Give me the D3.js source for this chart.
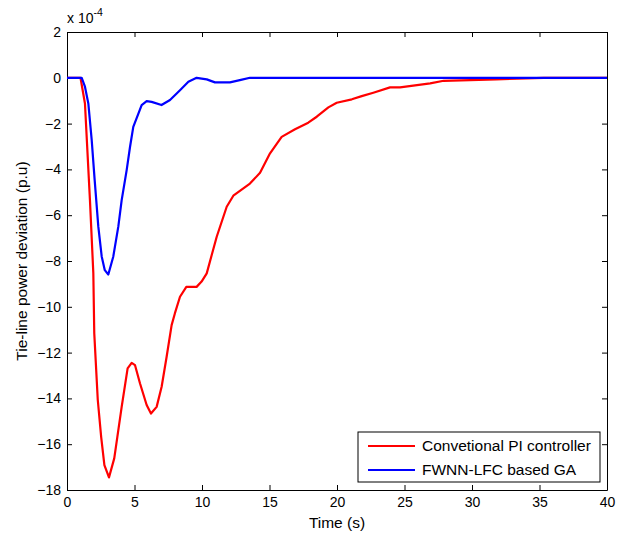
<!doctype html>
<html lang="en">
<head>
<meta charset="utf-8">
<style>
  body { margin: 0; background: #fff; }
  text { font-family: "Liberation Sans", Arial, sans-serif; fill: #000; }
</style>
<script src="https://cdnjs.cloudflare.com/ajax/libs/d3/7.8.5/d3.min.js"></script>
<title>Tie-line power deviation</title>
</head>
<body>
<script>
// data (values in units of 1e-4 p.u)
var piTime = [0, 1.0, 1.33, 1.7, 1.95, 2.02, 2.28, 2.53, 2.77, 3.11, 3.5, 3.73, 4.05, 4.49, 4.79, 5.04, 5.41, 5.9, 6.22, 6.64, 7.01, 7.38, 7.75, 7.99, 8.37, 8.84, 9.6, 9.97, 10.35, 10.72, 11.09, 11.83, 12.32, 13.55, 14.3, 15.04, 15.9, 16.89, 17.87, 18.5, 19.36, 19.98, 21.1, 21.83, 22.69, 23.93, 24.67, 26.9, 27.9, 31.8, 35.3, 40];
var piDev = [0, 0, -1.12, -5.34, -8.53, -11.16, -14.07, -15.68, -16.91, -17.45, -16.62, -15.68, -14.37, -12.69, -12.45, -12.55, -13.35, -14.29, -14.66, -14.37, -13.49, -12.18, -10.8, -10.29, -9.56, -9.13, -9.13, -8.9, -8.54, -7.74, -6.94, -5.63, -5.15, -4.62, -4.15, -3.3, -2.58, -2.25, -1.96, -1.7, -1.29, -1.09, -0.94, -0.8, -0.65, -0.42, -0.42, -0.24, -0.13, -0.07, 0, 0];

var gaTime = [0, 1.09, 1.33, 1.58, 1.83, 2.05, 2.32, 2.57, 2.8, 3.06, 3.43, 3.8, 4.05, 4.42, 4.67, 4.91, 5.53, 5.9, 6.27, 7.0, 7.63, 8.37, 8.99, 9.6, 10.35, 10.96, 12.07, 12.8, 13.55, 40];
var gaDev = [0, 0, -0.39, -1.12, -2.72, -4.47, -6.5, -7.8, -8.4, -8.59, -7.8, -6.5, -5.34, -4.03, -3.01, -2.14, -1.19, -1.02, -1.05, -1.19, -0.97, -0.54, -0.17, 0, -0.07, -0.2, -0.2, -0.1, 0, 0];

var xTicks = [0, 5, 10, 15, 20, 25, 30, 35, 40];
var yTicks = [2, 0, -2, -4, -6, -8, -10, -12, -14, -16, -18];
var seriesNames = ["Convetional PI controller", "FWNN-LFC based GA"];
var seriesColors = ["#ff0000", "#0000ff"];

var width = 624, height = 533;
var margin = {left: 67, right: 17, top: 32, bottom: 43};
var plotW = width - margin.left - margin.right,
    plotH = height - margin.top - margin.bottom;
var fs = "15.5px", tickFs = "14px";

var svg = d3.select("body").append("svg")
    .attr("width", width)
    .attr("height", height);

var x = d3.scaleLinear().domain([0, 40]).range([0, plotW]);
var y = d3.scaleLinear().domain([-18, 2]).range([plotH, 0]);

var g = svg.append("g")
    .attr("transform", "translate(" + margin.left + "," + margin.top + ")");

// axes - matlab style, ticks pointing in, box all round
var xAxis = d3.axisBottom(x).tickValues(xTicks).tickSizeInner(-5).tickSizeOuter(0).tickPadding(7);
var yAxis = d3.axisLeft(y).tickValues(yTicks).tickSizeInner(-5).tickSizeOuter(0).tickPadding(6);

g.append("g").attr("transform", "translate(0," + plotH + ")").call(xAxis);
g.append("g").call(yAxis);
g.append("g").call(d3.axisTop(x).tickValues(xTicks).tickSizeInner(-5).tickSizeOuter(0).tickFormat(""));
g.append("g").attr("transform", "translate(" + plotW + ",0)")
    .call(d3.axisRight(y).tickValues(yTicks).tickSizeInner(-5).tickSizeOuter(0).tickFormat(""));

g.selectAll(".domain").attr("stroke", "#000").attr("stroke-width", 1);
g.selectAll(".tick line").attr("stroke", "#000");
g.selectAll(".tick text").style("font-size", tickFs).style("font-family", "'Liberation Sans', Arial, sans-serif");

// clip so lines do not run over the frame
g.append("clipPath").attr("id", "clip")
  .append("rect").attr("width", plotW).attr("height", plotH);

var line = d3.line()
    .x(function(d) { return x(d[0]); })
    .y(function(d) { return y(d[1]); });

var series = [d3.zip(piTime, piDev), d3.zip(gaTime, gaDev)];

series.forEach(function(s, i) {
  g.append("path")
    .datum(s)
    .attr("clip-path", "url(#clip)")
    .attr("fill", "none")
    .attr("stroke", seriesColors[i])
    .attr("stroke-width", 2.2)
    .attr("stroke-linejoin", "round")
    .attr("d", line);
});

// exponent label
var expo = svg.append("text")
    .attr("x", margin.left)
    .attr("y", 23)
    .style("font-size", tickFs);
expo.append("tspan").text("x 10");
expo.append("tspan").attr("dy", -7).style("font-size", "10.5px").text("-4");

// axis titles
svg.append("text")
    .attr("x", margin.left + plotW / 2)
    .attr("y", 528)
    .attr("text-anchor", "middle")
    .style("font-size", fs)
    .text("Time (s)");

svg.append("text")
    .attr("transform", "translate(27," + (margin.top + plotH / 2) + ") rotate(-90)")
    .attr("text-anchor", "middle")
    .style("font-size", fs)
    .text("Tie-line power deviation (p.u)");

// legend
var lg = svg.append("g").attr("transform", "translate(358,432)");
lg.append("rect")
    .attr("width", 242).attr("height", 50)
    .attr("fill", "#fff").attr("stroke", "#000");

seriesNames.forEach(function(name, i) {
  var ly = 14 + i * 24;
  lg.append("line")
    .attr("x1", 10).attr("x2", 57)
    .attr("y1", ly).attr("y2", ly)
    .attr("stroke", seriesColors[i]).attr("stroke-width", 2.2);
  lg.append("text")
    .attr("x", 64).attr("y", ly + 5)
    .style("font-size", fs)
    .text(name);
});
</script>
</body>
</html>
